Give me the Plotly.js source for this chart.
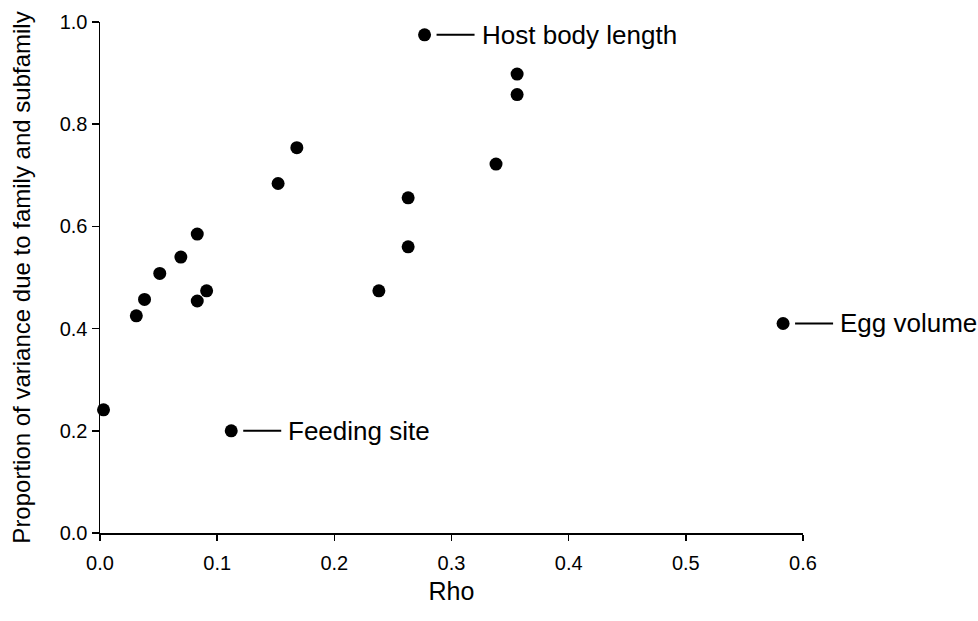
<!DOCTYPE html>
<html>
<head>
<meta charset="utf-8">
<script src="https://cdn.plot.ly/plotly-3.0.1.min.js"></script>
<style>html,body{margin:0;padding:0;background:#fff;}#chart{width:978px;height:621px;}</style>
</head>
<body>
<div id="chart"></div>
<script>
// Data
const rho  = [0.003, 0.031, 0.038, 0.051, 0.069, 0.083, 0.083, 0.091, 0.112, 0.152, 0.168, 0.238, 0.263, 0.263, 0.277, 0.338, 0.356, 0.356, 0.583];
const prop = [0.241, 0.425, 0.457, 0.508, 0.540, 0.585, 0.454, 0.474, 0.200, 0.684, 0.754, 0.474, 0.656, 0.560, 0.975, 0.722, 0.898, 0.858, 0.410];
// Labelled points (index into the arrays above)
const labelNames   = ['Host body length', 'Feeding site', 'Egg volume'];
const labelIndices = [14, 8, 18];
const xTicks = [0.0, 0.1, 0.2, 0.3, 0.4, 0.5, 0.6];
const yTicks = [0.0, 0.2, 0.4, 0.6, 0.8, 1.0];

const FONT = 'Liberation Sans, Arial, sans-serif';

const trace = {
  x: rho, y: prop, type: 'scatter', mode: 'markers',
  marker: {color: '#000', size: 13, line: {width: 0}},
  cliponaxis: false, hoverinfo: 'x+y'
};

// Label text with a short leader line drawn as an arrow without head
const annotations = labelIndices.map((i, k) => ({
  x: rho[i], y: prop[i], xref: 'x', yref: 'y',
  text: labelNames[k], showarrow: true, arrowhead: 0, arrowwidth: 2, arrowcolor: '#000',
  axref: 'pixel', ayref: 'pixel', ax: 50, ay: 0, standoff: 12,
  xanchor: 'left', yanchor: 'middle', borderpad: 6,
  font: {family: FONT, size: 26, color: '#000'}
}));

const layout = {
  width: 978, height: 621,
  margin: {l: 100, r: 175, t: 22, b: 88},
  paper_bgcolor: '#fff', plot_bgcolor: '#fff',
  showlegend: false,
  font: {family: FONT, color: '#000'},
  xaxis: {
    range: [0, 0.6], tickvals: xTicks, tickformat: '.1f',
    showgrid: false, zeroline: false, showline: true, linecolor: '#000', linewidth: 1.5,
    ticks: 'outside', ticklen: 6, tickwidth: 1.5, tickcolor: '#000',
    ticklabelstandoff: 5,
    tickfont: {family: FONT, size: 20, color: '#000'},
    title: {text: 'Rho', font: {family: FONT, size: 25, color: '#000'}, standoff: 10},
    automargin: false, fixedrange: true
  },
  yaxis: {
    range: [0, 1], tickvals: yTicks, tickformat: '.1f',
    showgrid: false, zeroline: false, showline: true, linecolor: '#000', linewidth: 1.5,
    ticks: 'outside', ticklen: 7, tickwidth: 1.5, tickcolor: '#000',
    tickfont: {family: FONT, size: 20, color: '#000'},
    title: {text: 'Proportion of variance due to family and subfamily', font: {family: FONT, size: 24, color: '#000'}, standoff: 22},
    automargin: false, fixedrange: true
  },
  annotations: annotations
};

Plotly.newPlot('chart', [trace], layout, {displayModeBar: false, staticPlot: true});
</script>
</body>
</html>
